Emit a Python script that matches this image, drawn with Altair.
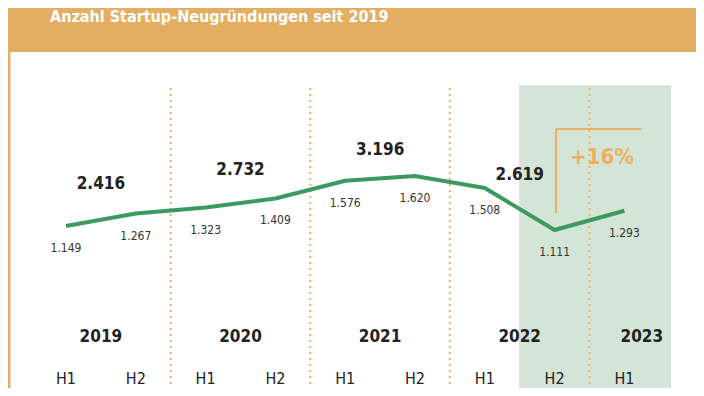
import altair as alt
import pandas as pd

# ---- data ----
half_labels = ["H1", "H2", "H1", "H2", "H1", "H2", "H1", "H2", "H1"]
half_values = [1.149, 1.267, 1.323, 1.409, 1.576, 1.620, 1.508, 1.111, 1.293]
half_text = ["1.149", "1.267", "1.323", "1.409", "1.576", "1.620", "1.508", "1.111", "1.293"]

years = ["2019", "2020", "2021", "2022", "2023"]
year_pos = [0.5, 2.5, 4.5, 6.5, 8.25]
totals = [2.416, 2.732, 3.196, 2.619]
totals_text = ["2.416", "2.732", "3.196", "2.619"]

separators = [1.5, 3.5, 5.5, 7.5]
highlight = [6.49, 8.67]
bracket_x = [7.02, 8.25]
bracket_y = [1.272, 2.064]
change_text = "+16%"
change_pos = [7.68, 1.80]
title_text = "Anzahl Startup-Neugründungen seit 2019"

W, H = 688, 380
ORANGE = "#E4AE62"
DOT = "#F0AE5E"
GREEN = "#3C9A5E"
BAND = "#D3E5D7"
FONT = "Liberation Sans Narrow, DejaVu Sans Condensed, Roboto, sans-serif"

xs = alt.Scale(domain=[-0.831, 9.026], nice=False, zero=False)
ys = alt.Scale(domain=[-0.379, 3.2057], nice=False, zero=False)
ts = alt.Scale(domain=[-2.264, 6.452], nice=False, zero=False)

df = pd.DataFrame({"i": list(range(len(half_values))), "v": half_values,
                   "t": half_text, "h": half_labels})
dy_years = pd.DataFrame({"x": year_pos, "year": years})
dtot = pd.DataFrame({"x": year_pos[:4], "v": totals, "t": totals_text})
dsep = pd.DataFrame({"x": separators})
dband = pd.DataFrame({"x": [highlight[0]], "x2": [highlight[1]]})
dbr_v = pd.DataFrame({"x": [bracket_x[0]], "y": [bracket_y[0]], "y2": [bracket_y[1]]})
dbr_h = pd.DataFrame({"x": [bracket_x[0]], "x2": [bracket_x[1]], "y": [bracket_y[1]]})
dchg = pd.DataFrame({"x": [change_pos[0]], "y": [change_pos[1]], "t": [change_text]})
dtitle = pd.DataFrame({"t": [title_text]})

X = lambda f: alt.X(f, type="quantitative", scale=xs, axis=None)
Y = lambda f: alt.Y(f, type="quantitative", scale=ys, axis=None)

header = alt.Chart(dtitle).mark_rect(color=ORANGE).encode(
    x=alt.value(0), x2=alt.value(W), y=alt.value(0), y2=alt.value(44))
border = alt.Chart(dtitle).mark_rule(color=ORANGE, strokeWidth=2.5).encode(
    x=alt.value(1.2), y=alt.value(40), y2=alt.value(H))
title = alt.Chart(dtitle).mark_text(
    font=FONT, fontSize=16, fontWeight="bold", color="white",
    align="left", baseline="alphabetic").encode(
    x=alt.value(42), y=alt.value(14), text="t:N")

band = alt.Chart(dband).mark_rect(color=BAND).encode(
    x=X("x"), x2="x2", y=alt.value(77), y2=alt.value(H))

seps = alt.Chart(dsep).mark_rule(color="#F2B06A", strokeWidth=2, strokeDash=[2, 4]).encode(
    x=X("x"), y=alt.value(80), y2=alt.value(H))

line = alt.Chart(df).mark_line(color=GREEN, strokeWidth=4, strokeJoin="round").encode(
    x=X("i"), y=Y("v"))

vlabels = alt.Chart(df).mark_text(font=FONT, fontSize=12, color="#333333", dy=22,
                                  baseline="middle").encode(
    x=X("i"), y=Y("v"), text="t:N")

tlabels = alt.Chart(dtot).mark_text(font=FONT, fontSize=17, fontWeight="bold",
                                    color="#222222", baseline="middle").encode(
    x=X("x"), y=alt.Y("v", type="quantitative", scale=ts, axis=None), text="t:N")

ylabels = alt.Chart(dy_years).mark_text(font=FONT, fontSize=17, fontWeight="bold",
                                        color="#222222", baseline="middle").encode(
    x=X("x"), y=alt.value(329), text="year:N")

hlabels = alt.Chart(df).mark_text(font=FONT, fontSize=16, color="#222222",
                                  baseline="middle").encode(
    x=X("i"), y=alt.value(370.5), text="h:N")

br_v = alt.Chart(dbr_v).mark_rule(color=DOT, strokeWidth=2).encode(
    x=X("x"), y=Y("y"), y2="y2")
br_h = alt.Chart(dbr_h).mark_rule(color=DOT, strokeWidth=2).encode(
    x=X("x"), x2="x2", y=Y("y"))
chg = alt.Chart(dchg).mark_text(font=FONT, fontSize=22, fontWeight="bold", color=DOT,
                                baseline="middle").encode(
    x=X("x"), y=Y("y"), text="t:N")

chart = alt.layer(
    header, border, title, band, seps, br_v, br_h, line, vlabels, tlabels, ylabels,
    hlabels, chg
).resolve_scale(y="independent").properties(
    width=W, height=H, padding=0, autosize=alt.AutoSizeParams(type="none")
).configure_view(strokeWidth=0)

chart.save("out.html", embed_options={"renderer": "svg", "actions": False})
